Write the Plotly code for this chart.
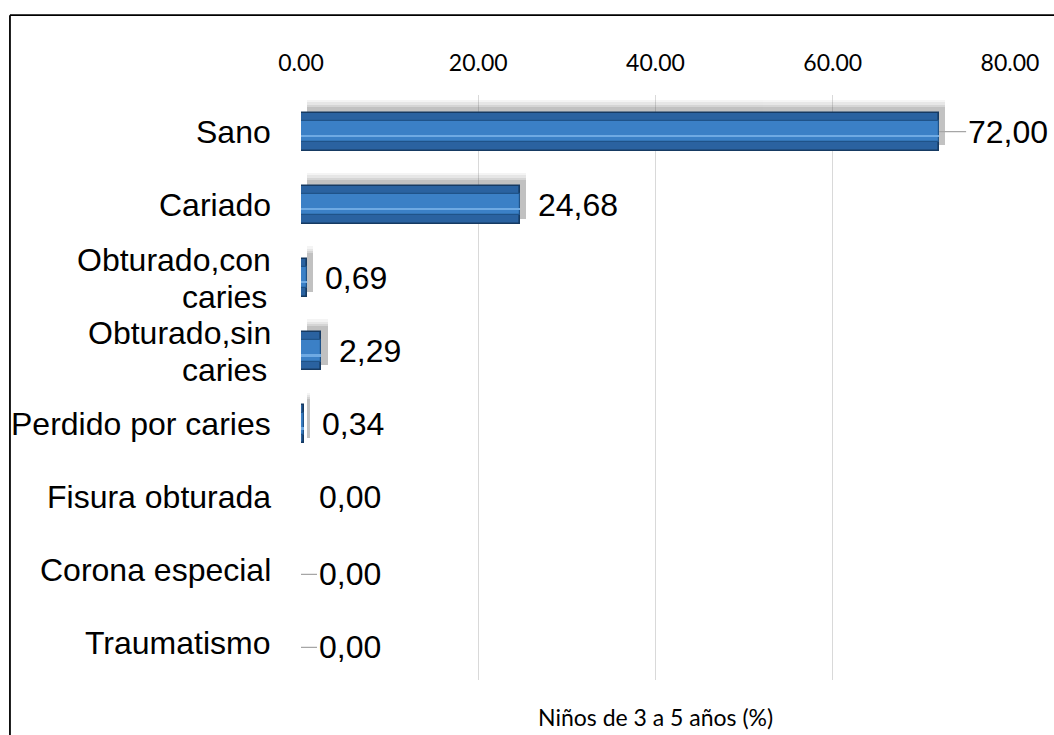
import plotly.graph_objects as go

# Dental condition categories and share of children aged 3-5 (%)
categories = [
    "Sano",
    "Cariado",
    "Obturado,con caries",
    "Obturado,sin caries",
    "Perdido por caries",
    "Fisura obturada",
    "Corona especial",
    "Traumatismo",
]
# how each category name is wrapped on the axis
category_lines = [
    ["Sano"],
    ["Cariado"],
    ["Obturado,con", "caries"],
    ["Obturado,sin", "caries"],
    ["Perdido por caries"],
    ["Fisura obturada"],
    ["Corona especial"],
    ["Traumatismo"],
]
values = [72.00, 24.68, 0.69, 2.29, 0.34, 0.00, 0.00, 0.00]
tick_values = [0, 20, 40, 60, 80]
tick_labels = ["0.00", "20.00", "40.00", "60.00", "80.00"]
axis_title = "Niños de 3 a 5 años (%)"

# labels that get a short leader line to the bar end
leader_labels = {"Sano", "Corona especial", "Traumatismo"}

BAR_W = 0.52
ARIAL = "Liberation Sans, Arial, sans-serif"
CALIBRI = "Lato, Carlito, Calibri, sans-serif"
LABEL_SIZE = 32

fig = go.Figure()

# soft drop shadow behind each bar (several translucent layers)
for dy, extra, op in [(-0.17, 0.10, 0.06), (-0.14, 0.07, 0.08), (-0.11, 0.04, 0.11),
                      (-0.08, 0.01, 0.14)]:
    fig.add_trace(go.Bar(
        y=categories, x=values, orientation="h",
        base=0.7, width=BAR_W + extra, offset=-BAR_W / 2 + dy,
        marker=dict(color="rgb(80,80,80)", line=dict(width=0)),
        opacity=op, hoverinfo="skip", showlegend=False,
    ))

# main bar with dark bevelled edge
fig.add_trace(go.Bar(
    y=categories, x=values, orientation="h",
    width=BAR_W, offset=-BAR_W / 2,
    marker=dict(color="#2A62A0", line=dict(color="#163A62", width=1.6)),
    showlegend=False,
))
# raised inner face
fig.add_trace(go.Bar(
    y=categories, x=values, orientation="h",
    width=BAR_W * 0.56, offset=-BAR_W * 0.28,
    marker=dict(color="#3B80C6", line=dict(color="#1F5389", width=1.2)),
    hoverinfo="skip", showlegend=False,
))
# light highlight stripe
fig.add_trace(go.Bar(
    y=categories, x=values, orientation="h",
    width=0.025, offset=BAR_W * 0.10,
    marker=dict(color="#6FAAE3", line=dict(width=0)),
    hoverinfo="skip", showlegend=False,
))

annotations = []
for cat, lines, v in zip(categories, category_lines, values):
    label = f"{v:.2f}".replace(".", ",")
    font = dict(family=ARIAL, size=LABEL_SIZE, color="#000000")
    if cat in leader_labels:
        annotations.append(dict(
            x=v, y=cat, xref="x", yref="y", text=label,
            showarrow=True, arrowhead=0, arrowwidth=1.3, arrowcolor="#A6A6A6",
            ax=27 if v > 0 else 16, ay=0, xanchor="left",
            yshift=-4 if v == 0 else 0,
            font=font,
        ))
    else:
        annotations.append(dict(
            x=v, y=cat, xref="x", yref="y", text=label,
            showarrow=False, xanchor="left", xshift=16,
            font=font,
        ))
    # category name, one annotation per wrapped line
    if len(lines) == 1:
        annotations.append(dict(
            x=0, y=cat, xref="paper", yref="y", text=lines[0],
            showarrow=False, xanchor="right", xshift=-28, font=font,
        ))
    else:
        for line, ys, xs in zip(lines, [18, -19], [-28, -32]):
            annotations.append(dict(
                x=0, y=cat, xref="paper", yref="y", text=line,
                showarrow=False, xanchor="right", xshift=xs, yshift=ys,
                font=font,
            ))

annotations.append(dict(
    x=0.5, y=-0.063, xref="paper", yref="paper", text=axis_title,
    showarrow=False, xanchor="center", yanchor="middle",
    font=dict(family=CALIBRI, size=23, color="#000000"),
))

# chart frame (top and left edges)
shapes = [
    dict(type="line", xref="paper", yref="paper",
         x0=-0.4105, x1=1.2, y0=1.1365, y1=1.1365,
         line=dict(color="#000000", width=1.8)),
    dict(type="line", xref="paper", yref="paper",
         x0=-0.4105, x1=-0.4105, y0=-0.2, y1=1.1365,
         line=dict(color="#000000", width=1.8)),
]

fig.update_layout(
    width=1054, height=735,
    margin=dict(l=301, r=44, t=95, b=55),
    paper_bgcolor="white", plot_bgcolor="white",
    barmode="overlay", bargap=0,
    annotations=annotations, shapes=shapes,
    xaxis=dict(
        side="top", range=[0, 80], tickvals=tick_values, ticktext=tick_labels,
        showgrid=True, gridcolor="#D9D9D9", gridwidth=1.3,
        zeroline=False, showline=False,
        ticks="outside", ticklen=14, tickcolor="rgba(0,0,0,0)",
        tickfont=dict(family=CALIBRI, size=23, color="#000000"),
    ),
    yaxis=dict(
        autorange="reversed", showticklabels=False, showgrid=False,
        zeroline=False, showline=False,
    ),
)

fig.write_html("out.html")
